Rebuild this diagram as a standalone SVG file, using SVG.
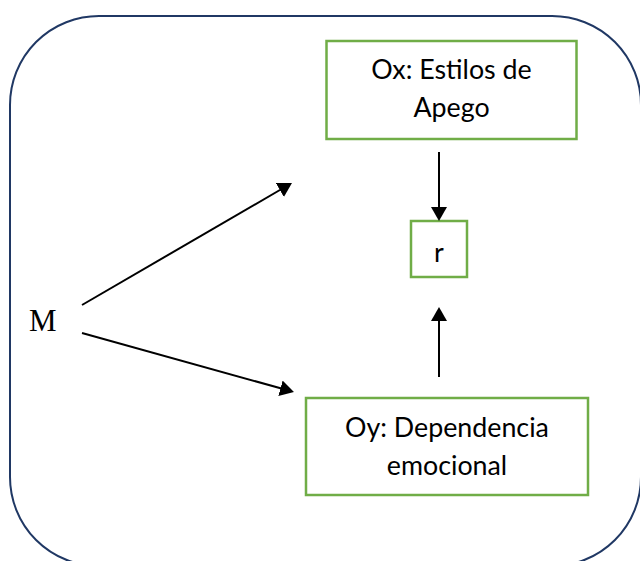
<svg xmlns="http://www.w3.org/2000/svg" width="640" height="561" viewBox="0 0 640 561">
<style>
.frame{fill:none;stroke:#203864;stroke-width:2}
.box{fill:#ffffff;stroke:#70AD47;stroke-width:2.5}
.lbl{font-family:Lato,"Open Sans","Liberation Sans",sans-serif;font-size:26.8px;fill:#000;text-anchor:middle}
.m{font-family:"Liberation Serif","DejaVu Serif",serif;font-size:31px;fill:#000}
.conn line{stroke:#000;stroke-width:2;fill:none}
</style>
<defs>
<marker id="ah" viewBox="0 0 14 16" markerWidth="14" markerHeight="16" refX="2" refY="8" orient="auto" markerUnits="userSpaceOnUse">
<path d="M0,0 L14,8 L0,16 z" fill="#000"/>
</marker>
</defs>
<rect width="640" height="561" fill="#ffffff"/>
<rect class="frame" x="10" y="16" width="631" height="550" rx="89" ry="89"/>
<g id="node-M"><text class="m" x="29" y="331">M</text></g>
<g id="node-Ox">
<rect class="box" x="326.5" y="41" width="250" height="98"/>
<text class="lbl" x="451.5" y="79">Ox: Estilos de</text>
<text class="lbl" x="451.5" y="117">Apego</text>
</g>
<g id="node-r">
<rect class="box" x="411" y="221" width="56" height="56"/>
<text class="lbl" x="439" y="262">r</text>
</g>
<g id="node-Oy">
<rect class="box" x="306" y="398" width="282" height="97"/>
<text class="lbl" x="447" y="437">Oy: Dependencia</text>
<text class="lbl" x="447" y="475">emocional</text>
</g>
<g id="connectors" class="conn">
<line x1="82" y1="305" x2="281.6" y2="189" marker-end="url(#ah)"/>
<line x1="82" y1="333" x2="282.4" y2="388.8" marker-end="url(#ah)"/>
<line x1="439" y1="152" x2="439" y2="209" marker-end="url(#ah)"/>
<line x1="439" y1="377" x2="439" y2="319" marker-end="url(#ah)"/>
</g>
</svg>
